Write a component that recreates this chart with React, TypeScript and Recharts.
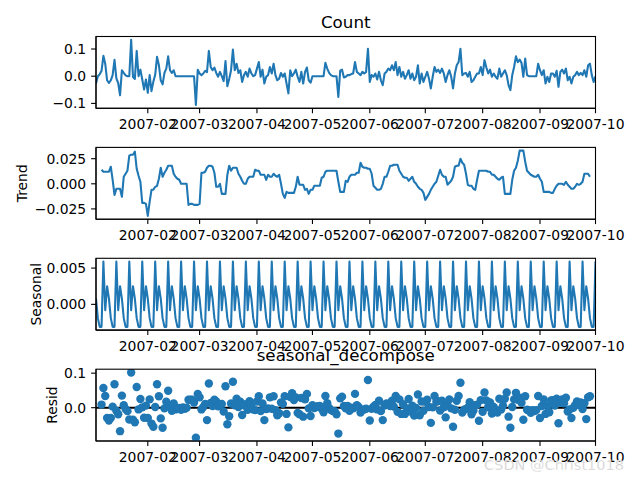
import React from "react";
import { ComposedChart, Line, Scatter, XAxis, YAxis } from "recharts";

// daily index, 2007-01-04 .. 2007-10-01
const startDate = "2007-01-04";
const monthTicks = ["2007-02", "2007-03", "2007-04", "2007-05", "2007-06", "2007-07", "2007-08", "2007-09", "2007-10"];

const observed = [
  -0.027, 0.0, 0.007, 0.02, 0.075, 0.045, -0.015, -0.025, -0.015, 0.004,
  0.06, -0.008, -0.025, -0.07, 0.022, 0.012, 0.003, 0.0, 0.0, 0.134,
  -0.003, -0.01, 0.093, 0.0, 0.024, -0.012, -0.049, -0.012, -0.061, 0.004,
  -0.055, -0.02, 0.005, 0.071, 0.04, -0.015, -0.03, 0.012, 0.028, 0.073,
  0.022, 0.012, 0.022, 0, 0, 0, 0, 0, 0, 0,
  0, 0, 0, 0, -0.106, 0.024, 0.01, 0.004, 0.01, 0.02,
  0.015, 0.093, 0.034, 0.022, 0.032, 0.012, -0.002, 0.016, 0.0, -0.018,
  0.056, -0.037, -0.01, 0.022, 0.098, 0.022, 0.046, 0.012, 0.022, -0.021,
  0.004, 0.016, -0.002, 0.028, 0.01, 0.0, 0.004, 0.028, 0.052, -0.002,
  0.024, -0.027, -0.002, 0.004, 0.034, 0.01, 0.046, 0.004, -0.015, -0.009,
  0.012, -0.002, 0.01, -0.027, -0.063, 0.022, 0.0, 0.01, 0.024, -0.002,
  -0.021, 0.016, -0.027, 0.016, 0.032, -0.015, -0.024, 0, 0, 0,
  0, 0, 0, 0, 0.049, 0.028, 0.012, 0.004, 0, 0,
  0, -0.076, 0.02, 0.024, -0.005, -0.002, 0.004, 0.004, 0.008, 0.01,
  0.052, 0.016, 0.01, 0.004, 0.016, 0.01, 0.016, 0.101, -0.021, 0.004,
  -0.002, 0.01, -0.012, 0.016, -0.015, -0.033, 0.01, 0.016, 0.028, 0.022,
  0.04, 0.022, 0.052, 0.004, 0.034, -0.002, 0.016, -0.009, 0.004, 0.022,
  -0.009, 0.01, -0.015, -0.002, 0.04, -0.027, 0.01, -0.021, -0.002, 0.016,
  -0.009, -0.045, -0.002, 0.034, 0.016, 0.024, 0.012, 0.028, 0.01, -0.021,
  0.004, 0.022, -0.002, -0.045, 0.01, 0.04, 0.052, 0.101, 0.004, 0.01,
  0.012, -0.002, 0.016, -0.021, -0.015, -0.002, 0.01, 0.01, 0.034, 0.004,
  0.059, 0.032, 0.01, 0.024, -0.002, 0.01, -0.002, -0.009, 0.028, -0.002,
  0.01, 0.022, 0.004, -0.033, -0.051, 0.004, 0.034, 0.073, 0.052, 0.061,
  0.049, -0.002, 0.065, 0.004, 0, 0, 0, 0, 0, 0.046,
  0.022, 0.004, 0.022, -0.027, -0.002, -0.021, 0.01, 0.01, -0.002, 0.02,
  -0.039, 0.016, 0.024, 0.01, 0.028, -0.015, -0.002, -0.027, -0.002, 0.004,
  0.016, 0.004, 0.012, 0.004, 0.022, -0.002, 0.04, 0.046, 0.004, -0.021,
  0.0,
];

const trend = [
  null, null, null, 0.014, 0.012, 0.012, 0.012, 0.012, 0.017, 0.004,
  -0.011, -0.005, -0.005, -0.005, -0.013, 0.007, 0.01, 0.013, 0.028, 0.029,
  0.029, 0.032, 0.015, 0.008, 0.002, -0.019, -0.019, -0.02, -0.032, -0.018,
  -0.006, -0.006, -0.003, -0.002, 0.005, 0.016, 0.007, 0.011, 0.014, 0.018,
  0.018, 0.018, 0.01, 0.007, 0.005, 0.004, 0.0, 0.0, 0.0, 0.0,
  -0.021, -0.02, -0.02, -0.021, -0.021, -0.021, -0.02, 0.011, 0.011, 0.012,
  0.016, 0.018, 0.018, 0.017, 0.011, -0.003, -0.003, 0.0, -0.01, -0.01,
  -0.01, 0.009, 0.018, 0.013, 0.016, 0.016, 0.016, 0.01, 0.007, 0.003,
  0.0, 0.0, 0.005, 0.007, 0.007, 0.007, 0.014, 0.013, 0.013, 0.009,
  0.009, 0.009, 0.004, 0.009, 0.007, 0.007, 0.01, 0.008, 0.007, 0.009,
  0.0, -0.01, -0.014, -0.008, -0.009, -0.009, -0.009, -0.009, -0.003, 0.007,
  -0.001, -0.001, -0.001, -0.006, -0.005, -0.01, -0.006, -0.006, -0.002, -0.002,
  -0.002, -0.002, 0.006, 0.007, 0.012, 0.013, 0.013, 0.013, 0.013, 0.013,
  0.013, 0.002, -0.008, -0.008, -0.008, 0.003, 0.002, 0.007, 0.009, 0.009,
  0.009, 0.011, 0.011, 0.021, 0.017, 0.016, 0.016, 0.015, 0.015, 0.01,
  -0.002, -0.004, -0.006, -0.006, -0.005, 0.0, 0.007, 0.007, 0.012, 0.018,
  0.018, 0.019, 0.019, 0.019, 0.013, 0.01, 0.007, 0.006, 0.006, 0.003,
  0.005, 0.007, 0.002, 0.0, -0.003, -0.005, -0.006, -0.009, -0.016, -0.013,
  -0.01, -0.006, -0.003, 0.0, 0.002, 0.008, 0.014, 0.009, 0.007, 0.007,
  -0.001, 0.001, 0.003, 0.007, 0.017, 0.018, 0.018, 0.025, 0.021, 0.019,
  0.01, -0.001, -0.002, -0.002, -0.005, -0.006, 0.004, 0.013, 0.013, 0.013,
  0.013, 0.013, 0.012, 0.012, 0.009, 0.009, 0.007, 0.005, 0.004, 0.006,
  0.007, -0.01, -0.01, -0.01, -0.01, 0.004, 0.013, 0.016, 0.023, 0.033,
  0.033, 0.033, 0.022, 0.013, 0.011, 0.009, 0.008, 0.007, 0.007, 0.009,
  0.005, 0.002, -0.008, -0.008, -0.008, -0.008, -0.009, -0.009, -0.005, -0.002,
  0.0, 0.0, 0.0, -0.001, 0.002, -0.001, -0.003, -0.005, -0.005, -0.003,
  0.0, -0.001, 0.0, 0.002, 0.01, 0.01, 0.01, 0.007, null, null,
  null,
];

// weekly cycle, repeated over the whole index
const seasonal = [
  0.0008, -0.0019, -0.0031, -0.0031, 0.0059, -0.0008, 0.0025,
  0.0008, -0.0019, -0.0031, -0.0031, 0.0059, -0.0008, 0.0025,
  0.0008, -0.0019, -0.0031, -0.0031, 0.0059, -0.0008, 0.0025,
  0.0008, -0.0019, -0.0031, -0.0031, 0.0059, -0.0008, 0.0025,
  0.0008, -0.0019, -0.0031, -0.0031, 0.0059, -0.0008, 0.0025,
  0.0008, -0.0019, -0.0031, -0.0031, 0.0059, -0.0008, 0.0025,
  0.0008, -0.0019, -0.0031, -0.0031, 0.0059, -0.0008, 0.0025,
  0.0008, -0.0019, -0.0031, -0.0031, 0.0059, -0.0008, 0.0025,
  0.0008, -0.0019, -0.0031, -0.0031, 0.0059, -0.0008, 0.0025,
  0.0008, -0.0019, -0.0031, -0.0031, 0.0059, -0.0008, 0.0025,
  0.0008, -0.0019, -0.0031, -0.0031, 0.0059, -0.0008, 0.0025,
  0.0008, -0.0019, -0.0031, -0.0031, 0.0059, -0.0008, 0.0025,
  0.0008, -0.0019, -0.0031, -0.0031, 0.0059, -0.0008, 0.0025,
  0.0008, -0.0019, -0.0031, -0.0031, 0.0059, -0.0008, 0.0025,
  0.0008, -0.0019, -0.0031, -0.0031, 0.0059, -0.0008, 0.0025,
  0.0008, -0.0019, -0.0031, -0.0031, 0.0059, -0.0008, 0.0025,
  0.0008, -0.0019, -0.0031, -0.0031, 0.0059, -0.0008, 0.0025,
  0.0008, -0.0019, -0.0031, -0.0031, 0.0059, -0.0008, 0.0025,
  0.0008, -0.0019, -0.0031, -0.0031, 0.0059, -0.0008, 0.0025,
  0.0008, -0.0019, -0.0031, -0.0031, 0.0059, -0.0008, 0.0025,
  0.0008, -0.0019, -0.0031, -0.0031, 0.0059, -0.0008, 0.0025,
  0.0008, -0.0019, -0.0031, -0.0031, 0.0059, -0.0008, 0.0025,
  0.0008, -0.0019, -0.0031, -0.0031, 0.0059, -0.0008, 0.0025,
  0.0008, -0.0019, -0.0031, -0.0031, 0.0059, -0.0008, 0.0025,
  0.0008, -0.0019, -0.0031, -0.0031, 0.0059, -0.0008, 0.0025,
  0.0008, -0.0019, -0.0031, -0.0031, 0.0059, -0.0008, 0.0025,
  0.0008, -0.0019, -0.0031, -0.0031, 0.0059, -0.0008, 0.0025,
  0.0008, -0.0019, -0.0031, -0.0031, 0.0059, -0.0008, 0.0025,
  0.0008, -0.0019, -0.0031, -0.0031, 0.0059, -0.0008, 0.0025,
  0.0008, -0.0019, -0.0031, -0.0031, 0.0059, -0.0008, 0.0025,
  0.0008, -0.0019, -0.0031, -0.0031, 0.0059, -0.0008, 0.0025,
  0.0008, -0.0019, -0.0031, -0.0031, 0.0059, -0.0008, 0.0025,
  0.0008, -0.0019, -0.0031, -0.0031, 0.0059, -0.0008, 0.0025,
  0.0008, -0.0019, -0.0031, -0.0031, 0.0059, -0.0008, 0.0025,
  0.0008, -0.0019, -0.0031, -0.0031, 0.0059, -0.0008, 0.0025,
  0.0008, -0.0019, -0.0031, -0.0031, 0.0059, -0.0008, 0.0025,
  0.0008, -0.0019, -0.0031, -0.0031, 0.0059, -0.0008, 0.0025,
  0.0008, -0.0019, -0.0031, -0.0031, 0.0059, -0.0008, 0.0025,
  0.0008, -0.0019, -0.0031, -0.0031, 0.0059,
];

const resid = [
  null, null, null, 0.009, 0.057, 0.034, -0.03, -0.037, -0.03, 0.003,
  0.068, -0.009, -0.019, -0.068, 0.035, 0.007, -0.004, -0.01, -0.034, 0.102,
  -0.035, -0.042, 0.06, -0.005, 0.025, 0.001, -0.029, 0.006, -0.03, 0.024,
  -0.046, -0.055, 0.002, 0.068, 0.033, -0.031, -0.058, -0.002, 0.017, 0.049,
  0.005, -0.009, 0.012, -0.005, -0.002, -0.001, -0.006, 0.001, -0.003, 0.0,
  0.023, 0.023, 0.023, 0.015, -0.087, 0.04, 0.03, -0.005, 0.002, 0.011,
  -0.036, 0.07, 0.014, 0.005, 0.023, 0.018, 0.004, 0.01, 0.011, -0.011,
  0.062, -0.048, -0.025, 0.012, 0.075, 0.007, 0.026, 0.002, 0.017, -0.021,
  0.007, 0.01, -0.006, 0.019, 0.003, -0.005, -0.007, 0.018, 0.033, -0.01,
  0.012, -0.036, -0.004, -0.002, 0.03, -0.003, 0.033, -0.007, -0.022, -0.016,
  0.015, 0.011, 0.033, -0.018, -0.057, 0.031, 0.042, 0.022, 0.03, -0.015,
  -0.019, 0.028, -0.026, 0.024, 0.04, -0.002, -0.024, 0.007, -0.001, 0.002,
  0.004, 0.005, -0.003, -0.013, 0.034, 0.013, -0.001, -0.007, -0.01, -0.01,
  -0.019, -0.075, 0.027, 0.032, 0.005, -0.002, 0.005, -0.009, 0.0, -0.002,
  0.04, 0.007, 0.002, -0.014, -0.007, -0.005, -0.003, 0.08, -0.037, -0.003,
  0.003, 0.008, -0.005, 0.02, -0.01, -0.036, 0.006, 0.012, 0.01, 0.005,
  0.02, 0.003, 0.034, -0.012, 0.024, -0.018, 0.01, -0.018, -0.002, 0.025,
  -0.011, 0.006, -0.023, -0.001, 0.038, -0.022, 0.018, -0.009, 0.017, 0.023,
  0.002, -0.044, 0.001, 0.034, 0.017, 0.019, -0.008, 0.02, 0.001, -0.028,
  0.007, 0.024, -0.002, -0.055, -0.006, 0.02, 0.034, 0.072, -0.014, -0.006,
  -0.004, 0.0, 0.016, -0.019, -0.008, 0.007, 0.009, -0.038, 0.022, -0.012,
  0.044, 0.021, 0.001, 0.015, -0.017, 0.002, -0.012, -0.014, 0.026, -0.005,
  0.006, 0.026, 0.044, -0.026, -0.058, 0.002, 0.024, 0.043, 0.023, 0.029,
  0.014, -0.035, 0.033, -0.006, -0.008, -0.015, -0.007, -0.01, -0.007, 0.034,
  -0.03, 0.005, 0.024, -0.018, 0.004, -0.013, 0.021, 0.022, 0.006, 0.026,
  -0.045, 0.014, 0.024, 0.013, 0.029, -0.011, -0.005, -0.03, 0.0, 0.007,
  0.018, 0.008, 0.015, -0.004, 0.013, -0.033, 0.03, 0.033, null, null,
  null,
];

const DAY = 86400000;
const t0 = Date.parse(startDate);
const rows = observed.map((v, i) => ({
  t: t0 + i * DAY,
  observed: v,
  trend: trend[i],
  seasonal: seasonal[i],
  resid: resid[i],
}));
const residRows = rows.filter((r) => r.resid !== null);
const tEnd = rows[rows.length - 1].t;
const tickValues = monthTicks.map((m) => Date.parse(m + "-01"));

const BLUE = "#1f77b4";
const LEFT = 96;
const RIGHT = 595.5;
const PH = 71.8;
const FONT = "DejaVu Sans";

// matplotlib-style autoscale: data range plus 5% either side
function padded(vals: (number | null)[]): [number, number] {
  const v = vals.filter((x): x is number => x !== null);
  const lo = Math.min(...v);
  const hi = Math.max(...v);
  const m = (hi - lo) * 0.05;
  return [lo - m, hi + m];
}

const minus = (s: string) => s.replace("-", "\u2212");

type PanelProps = {
  top: number;
  dataKey: "observed" | "trend" | "seasonal" | "resid";
  ticks: number[];
  digits: number;
  scatter?: boolean;
};

function Panel({ top, dataKey, ticks, digits, scatter }: PanelProps) {
  const values = dataKey === "observed" ? observed : dataKey === "trend" ? trend : dataKey === "seasonal" ? seasonal : resid;
  const domain = padded(values);
  const axisLine = { stroke: "#000", strokeWidth: 1.1 };
  const tickStyle = { fill: "#000", fontSize: 13.9, fontFamily: FONT };
  return (
    <div style={{ position: "absolute", left: 0, top: 0 }}>
      <ComposedChart
        width={640}
        height={480}
        data={rows}
        margin={{ top, right: 640 - RIGHT, bottom: 480 - top - PH - 30, left: 0 }}
      >
        <XAxis
          dataKey="t"
          type="number"
          domain={[t0, tEnd]}
          allowDataOverflow
          ticks={tickValues}
          interval={0}
          tickFormatter={(v: number) => monthTicks[tickValues.indexOf(v)]}
          height={30}
          tickSize={4.9}
          tickMargin={6}
          tick={tickStyle}
          tickLine={axisLine}
          axisLine={axisLine}
        />
        <YAxis
          type="number"
          domain={domain}
          allowDataOverflow
          ticks={ticks}
          interval={0}
          tickFormatter={(v: number) => minus(v.toFixed(digits))}
          width={LEFT}
          tickSize={4.9}
          tickMargin={4.9}
          tick={tickStyle}
          tickLine={axisLine}
          axisLine={axisLine}
        />
        {scatter ? (
          <>
            {/* zero line, drawn under the residual dots */}
            <Line
              type="linear"
              data={rows}
              dataKey={() => 0}
              stroke="#000"
              strokeWidth={2.08}
              dot={false}
              activeDot={false}
              isAnimationActive={false}
            />
            <Scatter
              data={residRows}
              dataKey="resid"
              fill={BLUE}
              isAnimationActive={false}
              shape={(p: any) => <circle cx={p.cx} cy={p.cy} r={4.2} fill={BLUE} />}
            />
          </>
        ) : (
          <Line
            type="linear"
            dataKey={dataKey}
            stroke={BLUE}
            strokeWidth={2.08}
            strokeLinejoin="round"
            dot={false}
            activeDot={false}
            connectNulls={false}
            isAnimationActive={false}
          />
        )}
      </ComposedChart>
    </div>
  );
}

const tops = [36.5, 147.4, 258.3, 369.2];

export default function App() {
  return (
    <div style={{ position: "absolute", left: 0, top: 0, width: 640, height: 480, background: "#fff", overflow: "hidden" }}>
      <Panel top={tops[0]} dataKey="observed" ticks={[-0.1, 0, 0.1]} digits={1} />
      <Panel top={tops[1]} dataKey="trend" ticks={[-0.025, 0, 0.025]} digits={3} />
      <Panel top={tops[2]} dataKey="seasonal" ticks={[0, 0.005]} digits={3} />
      <Panel top={tops[3]} dataKey="resid" ticks={[0, 0.1]} digits={1} scatter />
      <svg width={640} height={480} style={{ position: "absolute", left: 0, top: 0 }} fontFamily={FONT}>
        {/* axes frames (all four spines) */}
        {tops.map((t) => (
          <rect key={t} x={LEFT} y={t} width={RIGHT - LEFT} height={PH} fill="none" stroke="#000" strokeWidth={1.1} />
        ))}
        <text x={(LEFT + RIGHT) / 2} y={tops[0] - 8.3} fontSize={16.7} textAnchor="middle" fill="#000">
          Count
        </text>
        <text x={(LEFT + RIGHT) / 2} y={tops[3] - 8.3} fontSize={16.7} textAnchor="middle" fill="#000">
          seasonal_decompose
        </text>
        <text transform={`translate(26.5,${tops[1] + PH / 2}) rotate(-90)`} fontSize={13.9} textAnchor="middle" fill="#000">
          Trend
        </text>
        <text transform={`translate(40.5,${tops[2] + PH / 2}) rotate(-90)`} fontSize={13.9} textAnchor="middle" fill="#000">
          Seasonal
        </text>
        <text transform={`translate(57,${tops[3] + PH / 2}) rotate(-90)`} fontSize={13.9} textAnchor="middle" fill="#000">
          Resid
        </text>
        <text x={624} y={470} fontSize={14.5} textAnchor="end" fill="#c8c8c8" stroke="#fff" strokeWidth={0.4}>
          CSDN @Christ1018
        </text>
      </svg>
    </div>
  );
}
